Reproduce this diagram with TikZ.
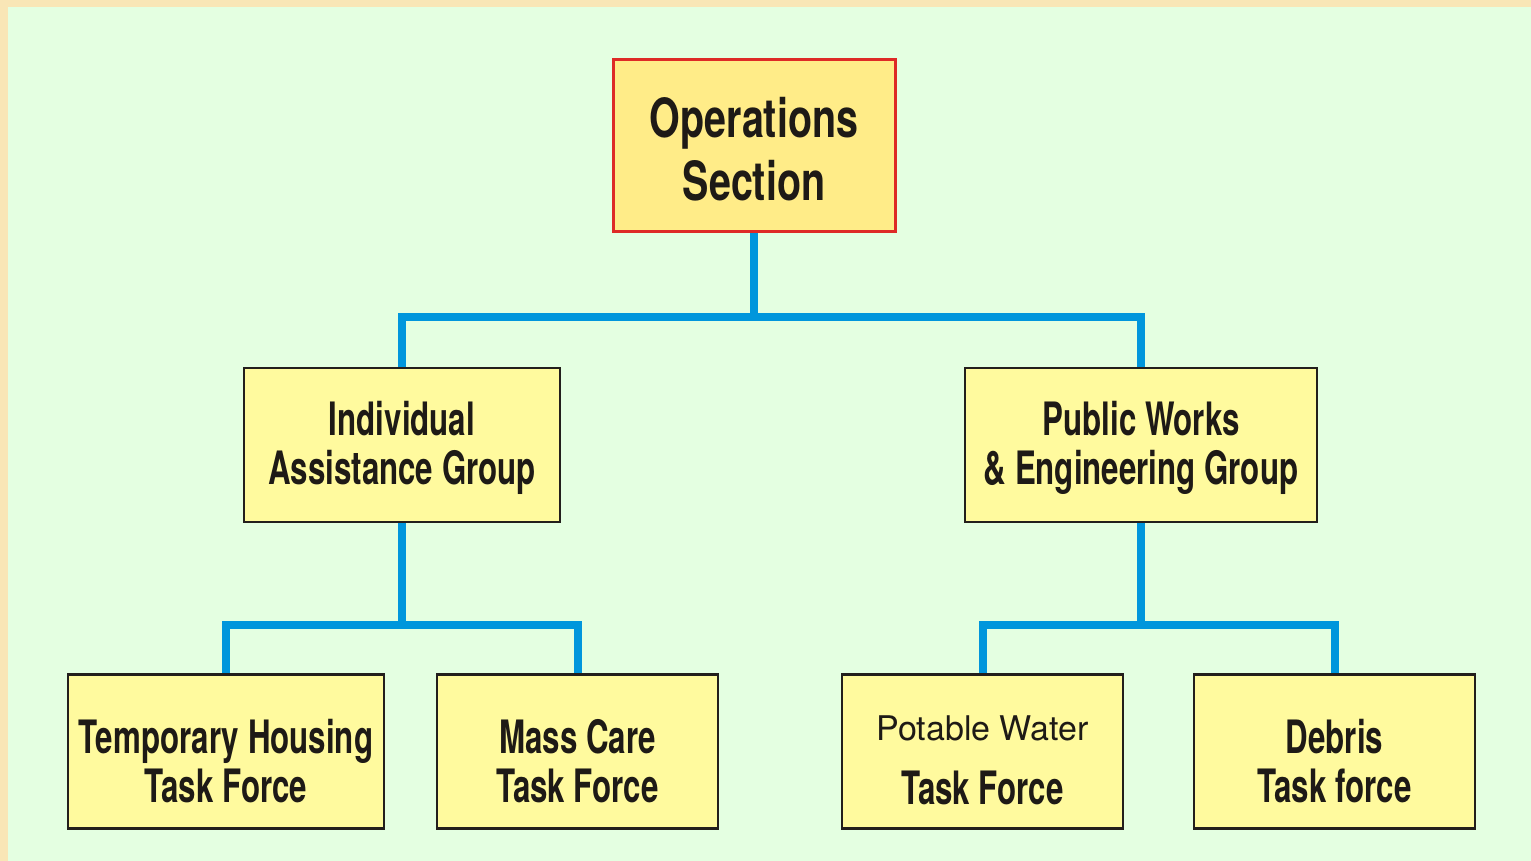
\documentclass[tikz,border=0pt]{standalone}
\usepackage{fontspec}
\setmainfont{TeX Gyre Heros}
\newfontfamily\condb{texgyreheros-bold}[Extension=.otf,FakeStretch=0.68]
\newfontfamily\condo{texgyreheros-bold}[Extension=.otf,FakeStretch=0.73]
\newfontfamily\helvr{texgyreheros-regular}[Extension=.otf]
\definecolor{outerbg}{HTML}{F9E6B6}
\definecolor{innerbg}{HTML}{E4FFE1}
\definecolor{boxfill}{HTML}{FFFA9E}
\definecolor{opsfill}{HTML}{FFEC88}
\definecolor{boxline}{HTML}{231F1C}
\definecolor{opsline}{HTML}{DE2A26}
\definecolor{conn}{HTML}{0096DC}
\definecolor{txt}{HTML}{1E1A16}
\newcommand{\topstrut}[1]{\rule{0pt}{#1}}
\begin{document}
\begin{tikzpicture}[x=0.5pt,y=-0.5pt,
  box/.style={draw=boxline, line width=1.3pt, fill=boxfill, inner sep=0pt,
    align=center, text=txt, minimum height=77pt,
    font=\condb\fontsize{23}{24.5}\selectfont},
  opsbox/.style={box, draw=opsline, line width=1.5pt, fill=opsfill,
    minimum width=141pt, minimum height=86pt,
    font=\condo\fontsize{27}{31.5}\selectfont},
  link/.style={draw=conn, line width=4pt}]
\useasboundingbox (0,0) rectangle (1531,861);
\fill[outerbg] (0,0) rectangle (1531,861);
\fill[innerbg] (8,7) rectangle (1531,861);
\node[opsbox] (ops) at (754,146) {\topstrut{23pt}Operations\\Section};
\node[box, minimum width=158pt] (ind) at (402,445) {\topstrut{20.5pt}Individual\\Assistance Group};
\node[box, minimum width=176pt] (pub) at (1141,445) {\topstrut{20.5pt}Public Works\\\& Engineering Group};
\node[box, minimum width=158pt] (tmp) at (226,751.5) {\topstrut{26.5pt}Temporary Housing\\Task Force};
\node[box, minimum width=140.5pt] (mass) at (577.5,751.5) {\topstrut{26.5pt}Mass Care\\Task Force};
\node[box, minimum width=140.5pt] (pot) at (982.5,751.5) {{\helvr\fontsize{17}{24}\selectfont\topstrut{21pt}Potable Water}\\[7.5pt]Task Force};
\node[box, minimum width=140.5pt] (deb) at (1334.5,751.5) {\topstrut{26.5pt}Debris\\Task force};
\coordinate (bar1) at (754,317);
\coordinate (bar2) at (402,625);
\coordinate (bar3) at (1141,625);
\draw[link] (ops.south) -- (bar1);
\draw[link] (ind.north) |- (bar1) -| (pub.north);
\draw[link] (ind.south) -- (bar2);
\draw[link] (tmp.north) |- (bar2) -| (mass.north);
\draw[link] (pub.south) -- (bar3);
\draw[link] (pot.north) |- (bar3) -| (deb.north);
\end{tikzpicture}
\end{document}
